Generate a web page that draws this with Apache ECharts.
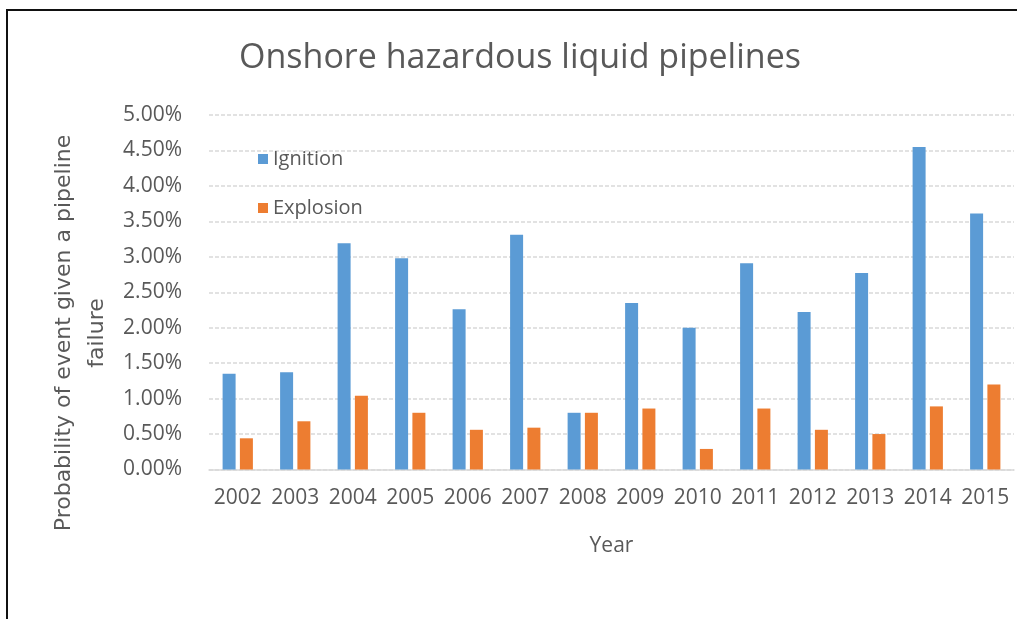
<!DOCTYPE html>
<html>
<head>
<meta charset="utf-8">
<script src="https://cdn.jsdelivr.net/npm/echarts@6/dist/echarts.min.js"></script>
<style>
  html, body { margin: 0; padding: 0; background: #fff; }
  #main { width: 1017px; height: 619px; }
</style>
</head>
<body>
<div id="main"></div>
<script>
const years = ["2002", "2003", "2004", "2005", "2006", "2007", "2008",
  "2009", "2010", "2011", "2012", "2013", "2014", "2015"];
// probability (%)
const ignition = [1.35, 1.37, 3.19, 2.98, 2.26, 3.31, 0.80, 2.35, 2.00, 2.91, 2.22, 2.77, 4.55, 3.61];
const explosion = [0.44, 0.68, 1.04, 0.80, 0.56, 0.59, 0.80, 0.86, 0.29, 0.86, 0.56, 0.50, 0.89, 1.20];

const font = "Open Sans";
const grey = "#595959";

const chart = echarts.init(document.getElementById("main"));

const option = {
  animation: false,
  backgroundColor: "#fff",
  textStyle: { fontFamily: font },
  title: {
    text: "Onshore hazardous liquid pipelines",
    left: 515,
    top: 36,
    textAlign: "center",
    textStyle: { fontFamily: font, fontSize: 34, fontWeight: "normal", color: grey },
  },
  legend: {
    orient: "vertical",
    left: 253,
    top: 143,
    itemWidth: 10,
    itemHeight: 10,
    itemGap: 27,
    icon: "rect",
    textStyle: { fontFamily: font, fontSize: 20, color: grey, lineHeight: 22 },
    data: ["Ignition", "Explosion"],
  },
  grid: { left: 209, right: 3, top: 115, bottom: 149.5 },
  xAxis: {
    type: "category",
    data: years,
    name: "Year",
    nameLocation: "middle",
    nameGap: 66,
    nameTextStyle: { fontFamily: font, fontSize: 21, color: grey },
    axisTick: { show: false },
    axisLine: { lineStyle: { color: "#d9d9d9", width: 1.5 } },
    axisLabel: { color: grey, fontSize: 21, margin: 18, interval: 0 },
  },
  yAxis: {
    type: "value",
    min: 0,
    max: 5,
    interval: 0.5,
    axisLine: { show: false },
    axisTick: { show: false },
    splitLine: { lineStyle: { color: "#d9d9d9", type: [4, 2], width: 1.5 } },
    axisLabel: {
      color: grey,
      fontSize: 21,
      margin: 27,
      formatter: (v) => v.toFixed(2) + "%",
    },
  },
  graphic: [
    { type: "rect", shape: { x: 6, y: 9, width: 1011, height: 2 }, style: { fill: "#111" } },
    { type: "rect", shape: { x: 6, y: 9, width: 2, height: 610 }, style: { fill: "#111" } },
    {
      type: "text",
      x: 81,
      y: 333,
      rotation: Math.PI / 2,
      style: {
        text: "Probability of event given a pipeline\nfailure",
        font: "22px 'DejaVu Sans'",
        fill: grey,
        align: "center",
        verticalAlign: "middle",
        lineHeight: 33,
      },
    },
  ],
  series: [
    {
      name: "Ignition",
      type: "bar",
      data: ignition,
      barWidth: 13,
      barGap: "33%",
      itemStyle: { color: "#5b9bd5" },
    },
    {
      name: "Explosion",
      type: "bar",
      data: explosion,
      barWidth: 13,
      itemStyle: { color: "#ed7d31" },
    },
  ],
};

chart.setOption(option);
</script>
</body>
</html>
